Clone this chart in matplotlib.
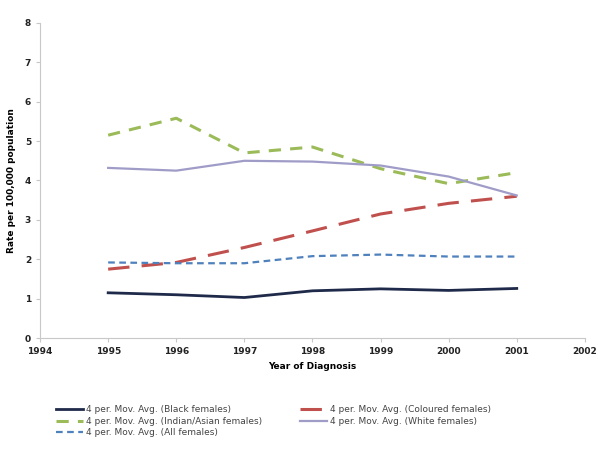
import matplotlib
matplotlib.use("Agg")
import matplotlib.pyplot as plt

years = [1995, 1996, 1997, 1998, 1999, 2000, 2001]
black = [1.15, 1.10, 1.03, 1.20, 1.25, 1.21, 1.26]
coloured = [1.75, 1.92, 2.30, 2.72, 3.15, 3.42, 3.60]
indian = [5.15, 5.58, 4.70, 4.85, 4.30, 3.92, 4.20]
white = [4.32, 4.25, 4.50, 4.48, 4.38, 4.10, 3.62]
all_f = [1.92, 1.90, 1.90, 2.08, 2.12, 2.07, 2.07]

fig = plt.figure(figsize=(5.98, 4.49), dpi=100)
ax = fig.add_axes([0.067, 0.247, 0.911, 0.702])

l1, = ax.plot(years, black, color='#1f2a4a', lw=2, label='4 per. Mov. Avg. (Black females)')
l2, = ax.plot(years, coloured, color='#c0504d', lw=2.2, dashes=(7, 4), label='4 per. Mov. Avg. (Coloured females)')
l3, = ax.plot(years, indian, color='#9bbb59', lw=2.2, dashes=(4, 3), label='4 per. Mov. Avg. (Indian/Asian females)')
l4, = ax.plot(years, white, color='#a09cc8', lw=1.6, label='4 per. Mov. Avg. (White females)')
l5, = ax.plot(years, all_f, color='#4f81bd', lw=1.6, dashes=(3, 2), label='4 per. Mov. Avg. (All females)')

ax.set_xlim(1994, 2002)
ax.set_ylim(0, 8)
ax.set_xticks(range(1994, 2003))
ax.set_yticks(range(0, 9))
for s in ['top', 'right']:
    ax.spines[s].set_visible(False)
for s in ['left', 'bottom']:
    ax.spines[s].set_color('#c8c8c8')
ax.tick_params(colors='#c8c8c8', length=3, labelcolor='#222222', labelsize=6.5)
for t in ax.get_xticklabels() + ax.get_yticklabels():
    t.set_fontweight('bold')
ax.set_xlabel('Year of Diagnosis', fontsize=6.5, fontweight='bold', labelpad=4)
ax.set_ylabel('Rate per 100,000 population', fontsize=6.5, fontweight='bold', labelpad=6)

# row order: Black | Coloured, Indian | White, All
fig.legend(handles=[l1, l3, l5, l2, l4], loc='upper left', bbox_to_anchor=(0.08, 0.115),
           ncol=2, frameon=False, fontsize=6.5, handlelength=3, columnspacing=4.2,
           labelspacing=0.25, handletextpad=0.3, labelcolor='#444444')

fig.savefig('out.png', dpi=100)
